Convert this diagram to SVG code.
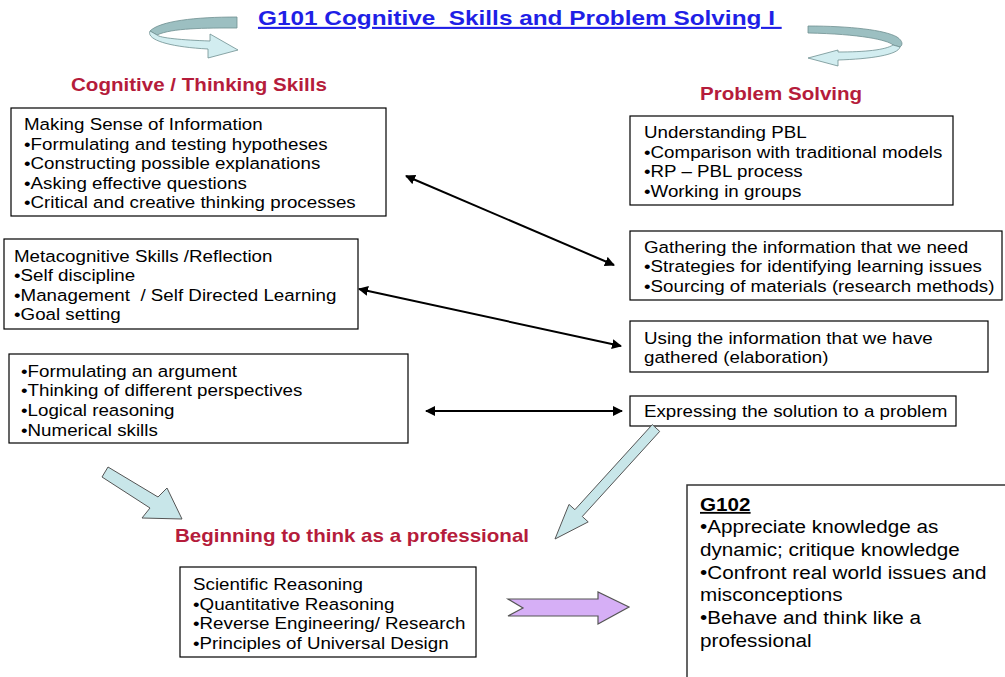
<svg xmlns="http://www.w3.org/2000/svg" width="1005" height="677" viewBox="0 0 1005 677">
  <style>
    .box { fill: #fff; stroke: #000; stroke-width: 1.2; }
    .t { font-family: "Liberation Sans", Arial, sans-serif; font-size: 16.5px; fill: #000; }
    .big { font-family: "Liberation Sans", Arial, sans-serif; font-size: 18.2px; fill: #000; }
    .head { font-family: "Liberation Sans", Arial, sans-serif; font-size: 18px; font-weight: bold; fill: #B51C3B; }
    .title { font-family: "Liberation Sans", Arial, sans-serif; font-size: 21px; font-weight: bold; fill: #1F1FE6; text-decoration: underline; }
    .conn { stroke: #000; stroke-width: 2; fill: none; marker-start: url(#tip); marker-end: url(#tip); }
    .block { fill: #C8E6E9; stroke: #555; stroke-width: 1; }
    .band-back { fill: #9CBFC1; stroke: #6F8F91; stroke-width: 0.8; }
    .band-front { fill: #D2EDF0; stroke: #6F8F91; stroke-width: 0.8; }
  </style>
  <defs>
    <marker id="tip" viewBox="0 0 10 10" refX="9" refY="5" markerWidth="5" markerHeight="5" orient="auto-start-reverse" markerUnits="strokeWidth">
      <path d="M0,0 L10,5 L0,10 Z" fill="#000"/>
    </marker>
  </defs>

  <rect width="1005" height="677" fill="#fff"/>

  <!-- Title and section headings (text is set slightly wide) -->
  <g transform="translate(258 0) scale(1.16 1) translate(-258 0)">
    <text class="title" x="258" y="25" xml:space="preserve">G101 Cognitive  Skills and Problem Solving I </text>
  </g>
  <g transform="translate(71 0) scale(1.143 1) translate(-71 0)">
    <text class="head" x="71" y="91">Cognitive / Thinking Skills</text>
  </g>
  <g transform="translate(700 0) scale(1.143 1) translate(-700 0)">
    <text class="head" x="700" y="100">Problem Solving</text>
  </g>
  <g transform="translate(175 0) scale(1.143 1) translate(-175 0)">
    <text class="head" x="175" y="542">Beginning to think as a professional</text>
  </g>

  <!-- Curved U-turn arrows beside the title -->
  <g id="turn-left">
    <path class="band-back" d="M237,17 C195,17 160,21 150,31 L157,35 C172,28 205,28 237,28 Z"/>
    <path class="band-front" d="M150,31 C146,40 170,47 208,49 L208,58 L238,50 L210,34 L210,41 C182,40 160,38 157,35 Z"/>
  </g>
  <g id="turn-right">
    <path class="band-back" d="M808,26 C850,26 885,30 897,37 C903,41 903,45 900,47 L893,45 C888,40 860,34 808,33 Z"/>
    <path class="band-front" d="M900,47 C898,55 870,59 838,60 L838,66 L808,58 L838,50 L838,52 C865,52 885,50 893,45 Z"/>
  </g>

  <!-- Left column -->
  <g id="making-sense">
    <rect class="box" x="11" y="108" width="375" height="108"/>
    <g transform="translate(24 0) scale(1.137 1) translate(-24 0)">
      <text class="t" x="24" y="130">Making Sense of Information</text>
      <text class="t" x="24" y="150">•Formulating and testing hypotheses</text>
      <text class="t" x="24" y="169">•Constructing possible explanations</text>
      <text class="t" x="24" y="189">•Asking effective questions</text>
      <text class="t" x="24" y="208">•Critical and creative thinking processes</text>
    </g>
  </g>
  <g id="metacognitive">
    <rect class="box" x="4" y="239" width="354" height="90"/>
    <g transform="translate(14 0) scale(1.137 1) translate(-14 0)">
      <text class="t" x="14" y="262">Metacognitive Skills /Reflection</text>
      <text class="t" x="14" y="281">•Self discipline</text>
      <text class="t" x="14" y="301" xml:space="preserve">•Management  / Self Directed Learning</text>
      <text class="t" x="14" y="320">•Goal setting</text>
    </g>
  </g>
  <g id="argument">
    <rect class="box" x="9" y="354" width="399" height="89"/>
    <g transform="translate(21 0) scale(1.137 1) translate(-21 0)">
      <text class="t" x="21" y="377">•Formulating an argument</text>
      <text class="t" x="21" y="396">•Thinking of different perspectives</text>
      <text class="t" x="21" y="416">•Logical reasoning</text>
      <text class="t" x="21" y="436">•Numerical skills</text>
    </g>
  </g>

  <!-- Right column -->
  <g id="understanding-pbl">
    <rect class="box" x="630" y="116" width="323" height="89"/>
    <g transform="translate(644 0) scale(1.137 1) translate(-644 0)">
      <text class="t" x="644" y="138">Understanding PBL</text>
      <text class="t" x="644" y="158">•Comparison with traditional models</text>
      <text class="t" x="644" y="177">•RP – PBL process</text>
      <text class="t" x="644" y="197">•Working in groups</text>
    </g>
  </g>
  <g id="gathering">
    <rect class="box" x="630" y="231" width="372" height="69"/>
    <g transform="translate(644 0) scale(1.137 1) translate(-644 0)">
      <text class="t" x="644" y="253">Gathering the information that we need</text>
      <text class="t" x="644" y="272">•Strategies for identifying learning issues</text>
      <text class="t" x="644" y="292">•Sourcing of materials (research methods)</text>
    </g>
  </g>
  <g id="using">
    <rect class="box" x="630" y="321" width="358" height="51"/>
    <g transform="translate(644 0) scale(1.137 1) translate(-644 0)">
      <text class="t" x="644" y="344">Using the information that we have</text>
      <text class="t" x="644" y="363">gathered (elaboration)</text>
    </g>
  </g>
  <g id="expressing">
    <rect class="box" x="630" y="396" width="326" height="30"/>
    <g transform="translate(644 0) scale(1.137 1) translate(-644 0)">
      <text class="t" x="644" y="417">Expressing the solution to a problem</text>
    </g>
  </g>

  <!-- Bottom -->
  <g id="scientific">
    <rect class="box" x="180" y="567" width="296" height="90"/>
    <g transform="translate(193 0) scale(1.137 1) translate(-193 0)">
      <text class="t" x="193" y="590">Scientific Reasoning</text>
      <text class="t" x="193" y="610">•Quantitative Reasoning</text>
      <text class="t" x="193" y="629">•Reverse Engineering/ Research</text>
      <text class="t" x="193" y="649">•Principles of Universal Design</text>
    </g>
  </g>
  <g id="g102">
    <rect x="687" y="485" width="330" height="200" fill="#fff" stroke="#333" stroke-width="1.5"/>
    <g transform="translate(700 0) scale(1.137 1) translate(-700 0)">
      <text class="big" x="700" y="511" font-weight="bold" text-decoration="underline">G102</text>
      <text class="big" x="700" y="533">•Appreciate knowledge as</text>
      <text class="big" x="700" y="556">dynamic; critique knowledge</text>
      <text class="big" x="700" y="579">•Confront real world issues and</text>
      <text class="big" x="700" y="601">misconceptions</text>
      <text class="big" x="700" y="624">•Behave and think like a</text>
      <text class="big" x="700" y="647">professional</text>
    </g>
  </g>

  <!-- Connectors -->
  <g id="connectors">
    <line class="conn" x1="406" y1="176" x2="614" y2="265"/>
    <line class="conn" x1="359" y1="289" x2="621" y2="346"/>
    <line class="conn" x1="426" y1="411" x2="622" y2="411"/>

    <polygon class="block" points="108,467 102,477 150,508 142,518 182,519 167,488 158,497"/>
    <polygon class="block" points="652.3,424.6 659.7,431.4 582.3,516.5 588.2,521.9 555,539 569,504.4 574.9,509.7"/>
    <polygon points="508,599 598,599 598,592 629,607 598,624 598,616 508,616 523,608" fill="#D6AFF6" stroke="#555" stroke-width="1.2"/>
  </g>
</svg>
